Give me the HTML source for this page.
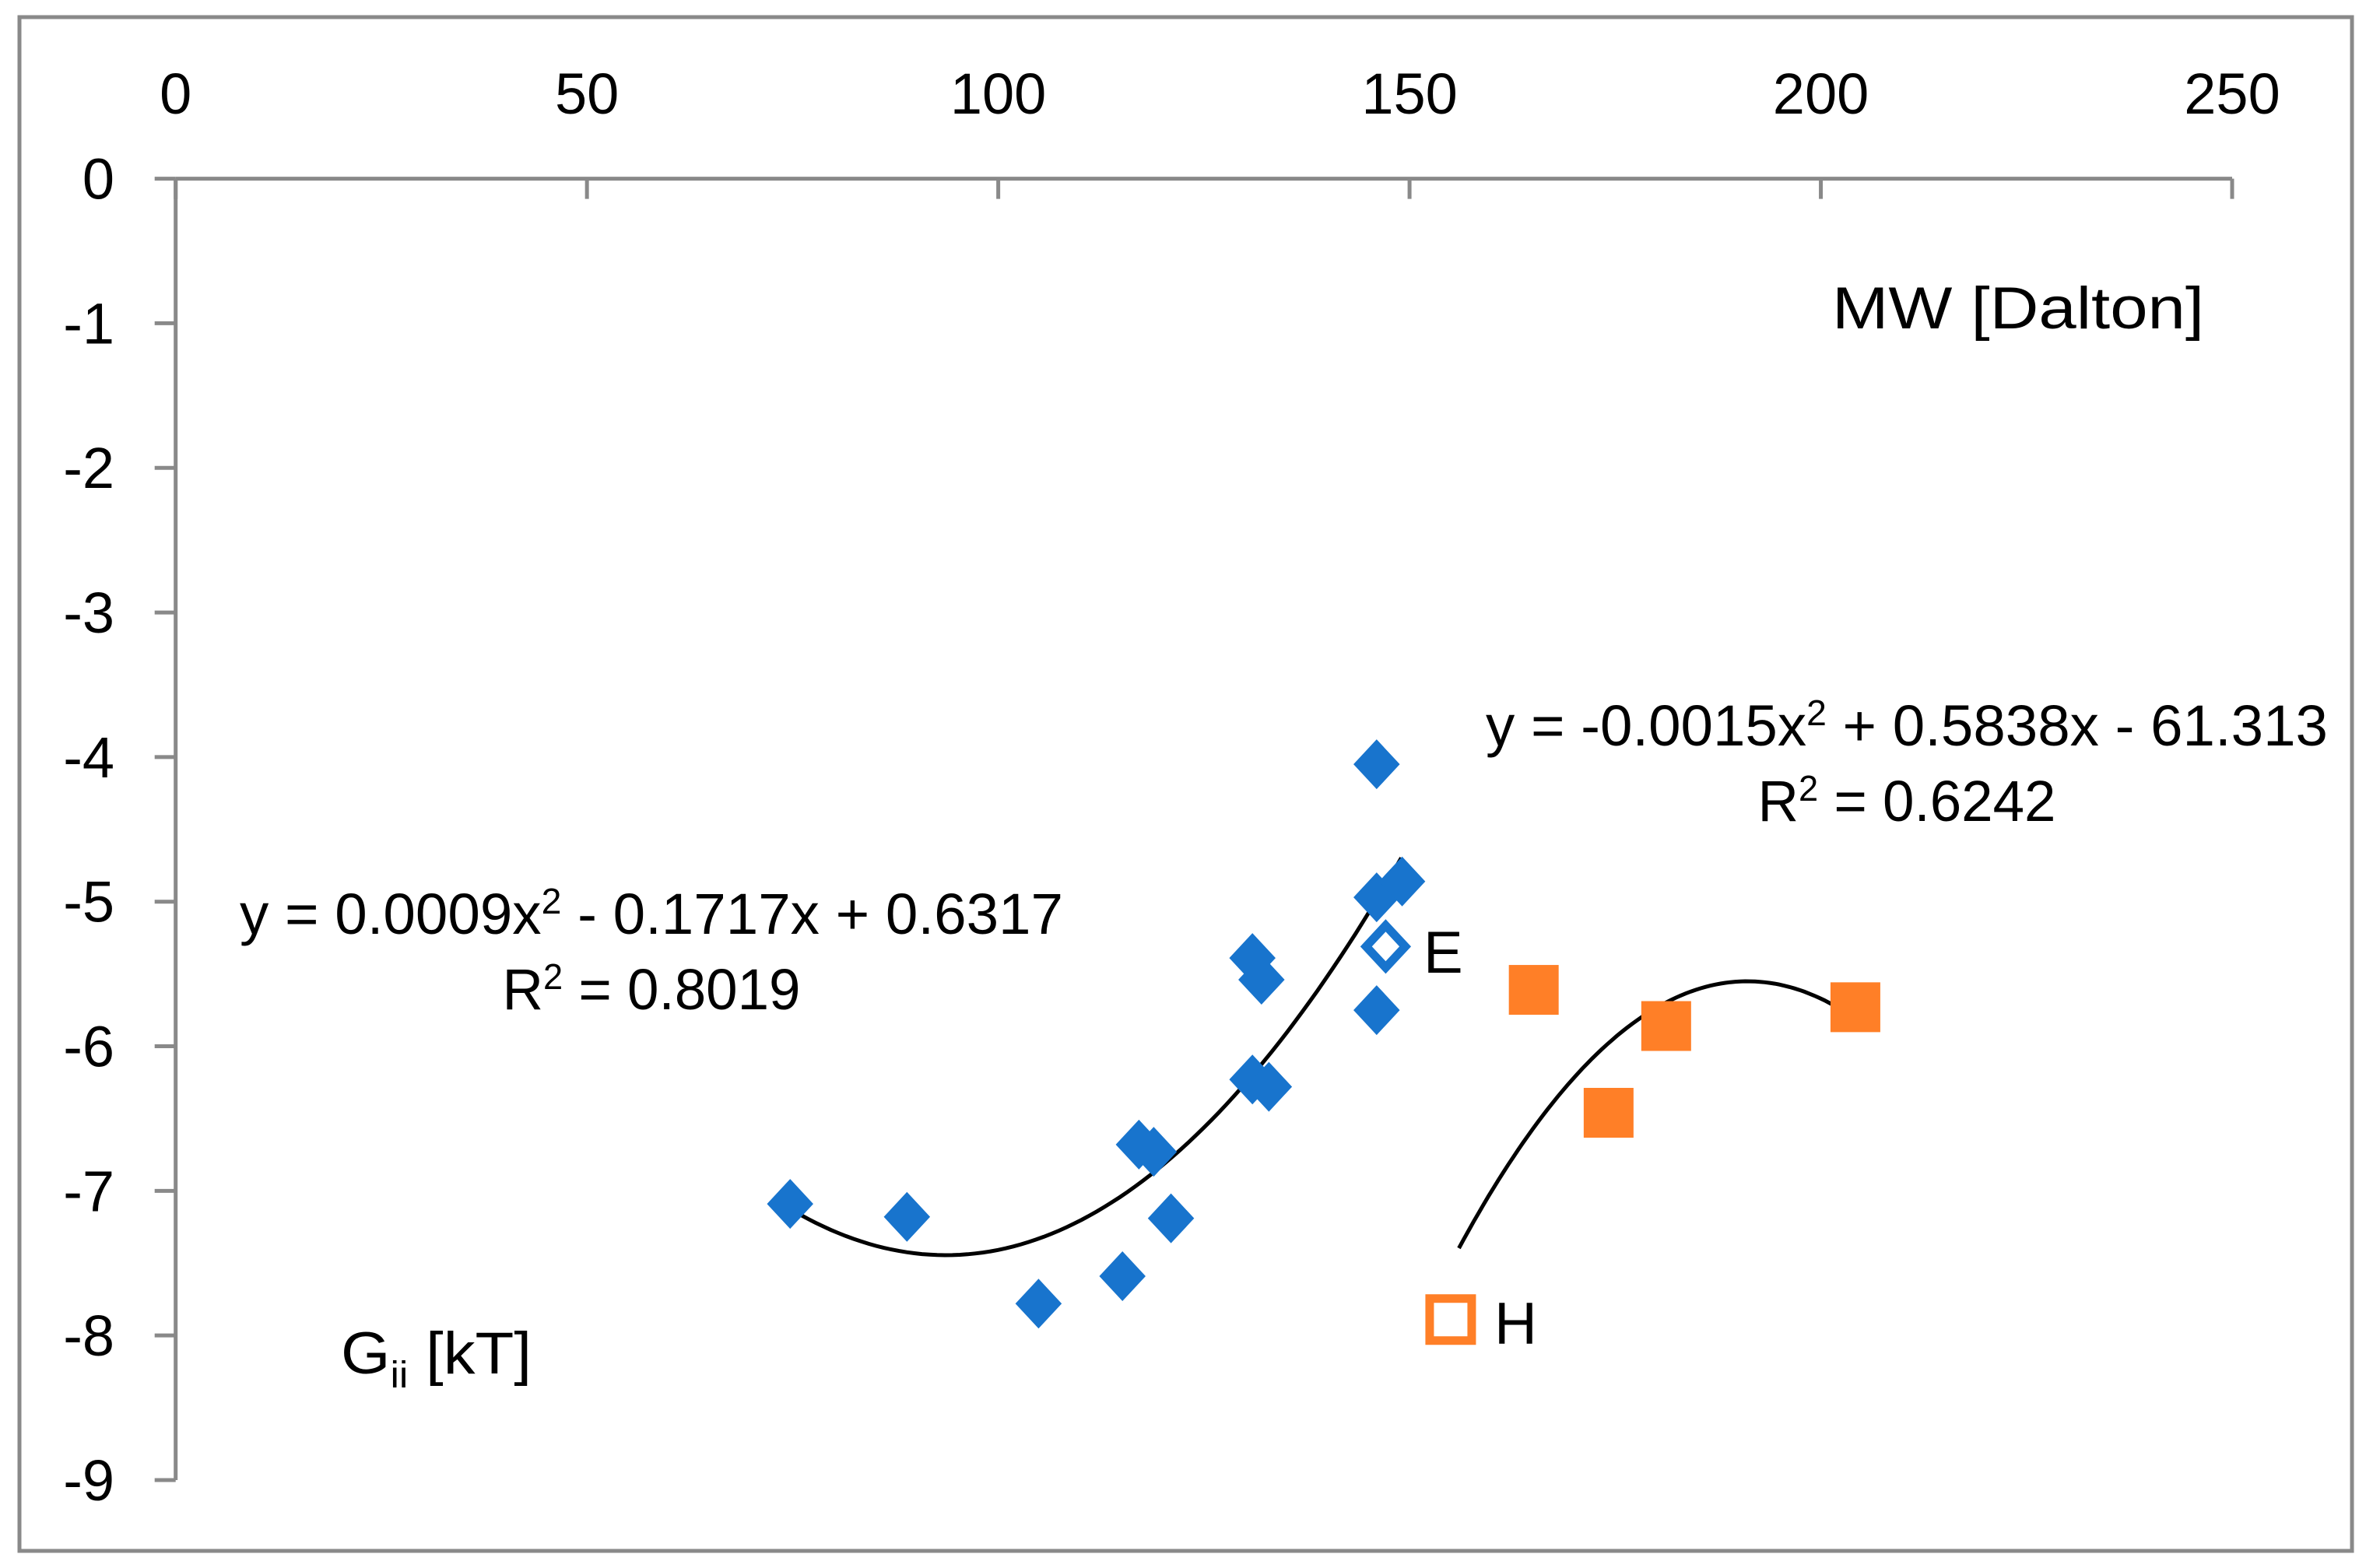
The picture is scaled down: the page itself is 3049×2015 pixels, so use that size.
<!DOCTYPE html>
<html><head><meta charset="utf-8"><style>
html,body{margin:0;padding:0;background:#fff;}
svg{display:block;}
text{font-family:"Liberation Sans",sans-serif;fill:#000;}
</style></head><body>
<svg id="chart" width="3049" height="2015" viewBox="0 0 3049 2015" xmlns="http://www.w3.org/2000/svg">
<rect x="25" y="22" width="2997" height="1971" fill="#fff" stroke="#898989" stroke-width="5"/>
<g id="axes"></g>
<g id="fits"></g>
<g id="marks"></g>
<text x="2354" y="422" font-size="76" textLength="478" lengthAdjust="spacingAndGlyphs">MW [Dalton]</text>
<text x="438" y="1765" font-size="76" textLength="245" lengthAdjust="spacingAndGlyphs">G<tspan font-size="48" dy="18">ii</tspan><tspan dy="-18"> [kT]</tspan></text>
<text x="837" y="1200" font-size="74" text-anchor="middle" textLength="1058" lengthAdjust="spacingAndGlyphs">y = 0.0009x<tspan font-size="46" dy="-26">2</tspan><tspan dy="26"> - 0.1717x + 0.6317</tspan></text>
<text x="837" y="1297" font-size="74" text-anchor="middle" textLength="383" lengthAdjust="spacingAndGlyphs">R<tspan font-size="46" dy="-26">2</tspan><tspan dy="26"> = 0.8019</tspan></text>
<text x="2450" y="958" font-size="74" text-anchor="middle" textLength="1082" lengthAdjust="spacingAndGlyphs">y = -0.0015x<tspan font-size="46" dy="-26">2</tspan><tspan dy="26"> + 0.5838x - 61.313</tspan></text>
<text x="2450" y="1055" font-size="74" text-anchor="middle" textLength="383" lengthAdjust="spacingAndGlyphs">R<tspan font-size="46" dy="-26">2</tspan><tspan dy="26"> = 0.6242</tspan></text>
<text x="1829" y="1250" font-size="76">E</text>
<text x="1920" y="1727" font-size="76">H</text>
</svg>
<script>
const xTicks = [0, 50, 100, 150, 200, 250];
const yTicks = [0, -1, -2, -3, -4, -5, -6, -7, -8, -9];
const blueX = [74.7, 88.9, 104.9, 115.1, 117.1, 118.9, 121.0, 130.9, 132.0, 130.9, 132.9, 146.0, 146.0, 149.1, 146.0];
const blueY = [-7.09, -7.18, -7.78, -7.59, -6.68, -6.73, -7.19, -5.39, -5.54, -6.23, -6.28, -4.05, -4.97, -4.86, -5.75];
const eX = [147.1];
const eY = [-5.31];
const orangeX = [165.1, 174.2, 181.2, 204.2];
const orangeY = [-5.61, -6.46, -5.86, -5.73];
const hX = [155.0];
const hY = [-7.89];
const blueFitRange = [75, 149];
const orangeFitRange = [156, 204];

const NS = 'http://www.w3.org/2000/svg';
const X0 = 225.7, X1 = 2868, Y0 = 229.6, Y9 = 1902;
function sx(v){ return X0 + (v - 0) / 250 * (X1 - X0); }
function sy(v){ return Y0 + (0 - v) / 9 * (Y9 - Y0); }
function mk(tag, attrs, parent){
  const e = document.createElementNS(NS, tag);
  for (const k in attrs) e.setAttribute(k, attrs[k]);
  parent.appendChild(e);
  return e;
}
const axes = document.getElementById('axes');
const marks = document.getElementById('marks');
const fits = document.getElementById('fits');
const G = '#898989';

let l = mk('line', {x1: sx(0), y1: sy(0), x2: sx(250), y2: sy(0), stroke: G, 'stroke-width': 5}, axes);


l = mk('line', {x1: sx(0), y1: sy(0), x2: sx(0), y2: sy(-9), stroke: G, 'stroke-width': 5}, axes);



xTicks.forEach(v => {
  const t = mk('line', {x1: sx(v), y1: sy(0), x2: sx(v), y2: sy(0) + 26, stroke: G, 'stroke-width': 5}, axes);
  
  
  const tx = mk('text', {x: sx(v), y: 146, 'font-size': 74, 'text-anchor': 'middle'}, axes);
  tx.textContent = v;
  
  
});
yTicks.forEach(v => {
  const t = mk('line', {x1: sx(0) - 27, y1: sy(v), x2: sx(0), y2: sy(v), stroke: G, 'stroke-width': 5}, axes);
  
  
  const tx = mk('text', {x: 147, y: sy(v) + 26, 'font-size': 74, 'text-anchor': 'end'}, axes);
  tx.textContent = v;
  
  
});

function fitPath(c, r){
  let d = '';
  for (let i = 0; i <= 80; i++){
    const x = r[0] + (r[1] - r[0]) * i / 80;
    const y = c[0]*x*x + c[1]*x + c[2];
    d += (i ? 'L' : 'M') + sx(x).toFixed(1) + ' ' + sy(y).toFixed(1);
  }
  return d;
}
function lsq(xs, ys){
  let S = [0,0,0,0,0], T = [0,0,0];
  xs.forEach((x,i) => { for (let k=0;k<5;k++) S[k]+=Math.pow(x,k); for (let k=0;k<3;k++) T[k]+=ys[i]*Math.pow(x,k); });
  const A = [[S[4],S[3],S[2],T[2]],[S[3],S[2],S[1],T[1]],[S[2],S[1],S[0],T[0]]];
  for (let i=0;i<3;i++){ for (let j=i+1;j<3;j++){ const f=A[j][i]/A[i][i]; for (let k=i;k<4;k++) A[j][k]-=f*A[i][k]; } }
  const s=[0,0,0];
  for (let i=2;i>=0;i--){ let v=A[i][3]; for (let k=i+1;k<3;k++) v-=A[i][k]*s[k]; s[i]=v/A[i][i]; }
  return s;
}
const bc = lsq(blueX.concat(eX), blueY.concat(eY));
const oc = lsq(orangeX.concat(hX), orangeY.concat(hY));
let p = mk('path', {d: fitPath(bc, blueFitRange), fill: 'none', stroke: '#000', 'stroke-width': 5}, fits);


p = mk('path', {d: fitPath(oc, orangeFitRange), fill: 'none', stroke: '#000', 'stroke-width': 5}, fits);



const BLUE = '#1874CD', ORANGE = '#FF7F27';
function diamond(cx, cy, r){ return `M${cx} ${cy-r}L${cx+r*0.93} ${cy}L${cx} ${cy+r}L${cx-r*0.93} ${cy}Z`; }
blueX.forEach((x, i) => {
  const m = mk('path', {d: diamond(sx(x), sy(blueY[i]), 32), fill: BLUE}, marks);
  
  
});
eX.forEach((x, i) => {
  const m = mk('path', {d: diamond(sx(x), sy(eY[i]), 27), fill: '#fff', stroke: BLUE, 'stroke-width': 11}, marks);
  
  
});
orangeX.forEach((x, i) => {
  const m = mk('rect', {x: sx(x) - 32, y: sy(orangeY[i]) - 32, width: 64, height: 64, fill: ORANGE}, marks);
  
  
});
hX.forEach((x, i) => {
  const m = mk('rect', {x: sx(x) - 27, y: sy(hY[i]) - 27, width: 54, height: 54, fill: '#fff', stroke: ORANGE, 'stroke-width': 11}, marks);
  
  
});
</script>
</body></html>
